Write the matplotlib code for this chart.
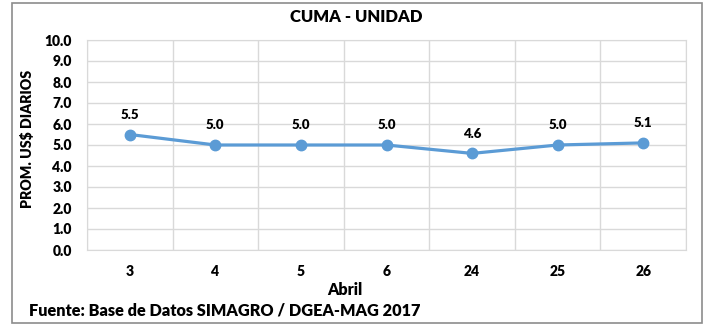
import numpy as np
import matplotlib.pyplot as plt
from matplotlib.patches import Rectangle

plt.rcParams['font.family'] = ['Lato', 'DejaVu Sans']
plt.rcParams['font.weight'] = 'heavy'

# precio promedio diario por unidad, abril 2017
dias = ['3', '4', '5', '6', '24', '25', '26']
precios = [5.5, 5.0, 5.0, 5.0, 4.6, 5.0, 5.1]

fig = plt.figure(figsize=(7.06, 3.27), dpi=100)
ax = fig.add_axes([87/706, 1 - 250/327, 599/706, 210/327])

x = np.arange(len(dias))
ax.plot(x, precios, color='#5B9BD5', lw=2.3, marker='o', ms=7.5, zorder=3)

for xi, v in zip(x, precios):
    ax.annotate(f'{v:.1f}', (xi, v), xytext=(0, 10), textcoords='offset points',
                ha='center', va='bottom', fontsize=9.5, fontweight='heavy')

ax.set_xlim(-0.5, len(dias) - 0.5)
ax.set_ylim(0, 10)
ax.set_yticks(np.arange(0, 10.1, 1))
ax.set_yticklabels([f'{t:.1f}' for t in np.arange(0, 10.1, 1)])
ax.set_xticks(x)
ax.set_xticklabels(dias)

# lineas verticales entre categorias
ax.set_xticks(np.arange(-0.5, len(dias), 1), minor=True)
ax.grid(which='minor', axis='x', color='#D9D9D9', lw=1)
ax.grid(which='major', axis='y', color='#D9D9D9', lw=1)
ax.tick_params(which='both', length=0)
ax.tick_params(axis='y', labelsize=10, pad=11)
ax.tick_params(axis='x', labelsize=10, pad=11)
for s in ax.spines.values():
    s.set_color('#D9D9D9')
ax.set_axisbelow(True)

fig.text(356/706, 1 - 17/327, 'CUMA - UNIDAD', ha='center', va='center',
         fontsize=12, fontweight='heavy')
fig.text(345/706, 1 - 290/327, 'Abril', ha='center', va='center',
         fontsize=11.5, fontweight='heavy')
fig.text(27/706, 1 - 139/327, 'PROM. US$ DIARIOS', ha='center', va='center',
         rotation=90, fontsize=10.2, fontweight='heavy')
fig.text(29/706, 1 - 310/327, 'Fuente: Base de Datos SIMAGRO / DGEA-MAG 2017',
         ha='left', va='center', fontsize=11.7, fontweight='heavy')

fig.patches.append(Rectangle((12/706, 1 - 323/327), 690/706, 320/327,
                             transform=fig.transFigure, fill=False,
                             edgecolor='#8C8C8C', lw=1.2))

fig.savefig('out.png', dpi=100)
